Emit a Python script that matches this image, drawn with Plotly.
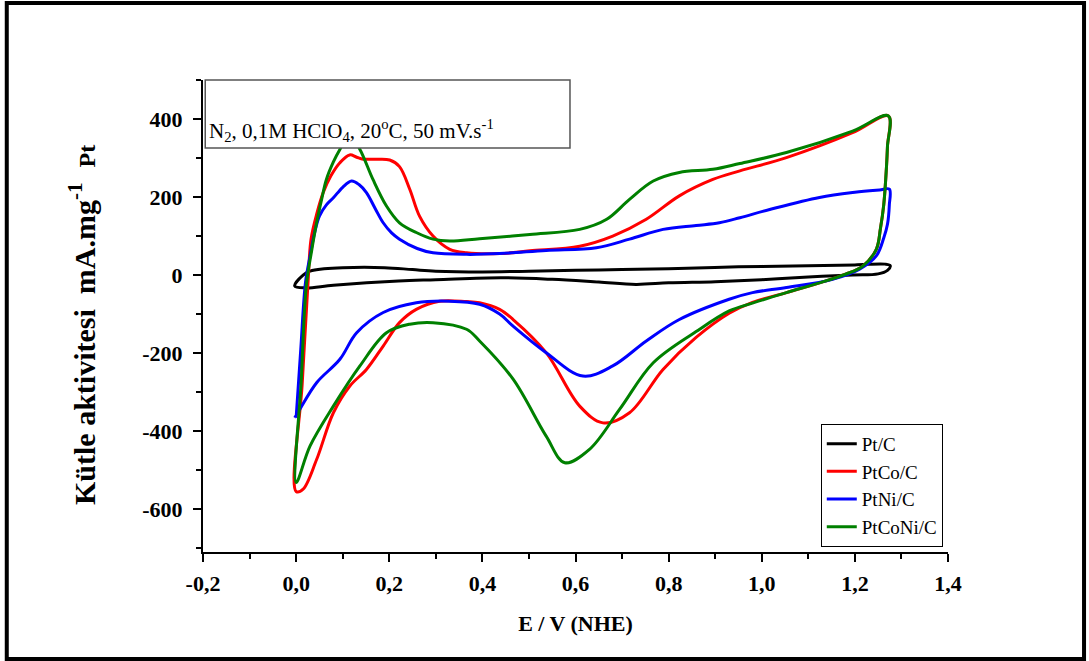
import plotly.graph_objects as go

# ---------------- data ----------------
series_names = ["Pt/C", "PtCo/C", "PtNi/C", "PtCoNi/C"]
series_colors = ["#000000", "#FF0000", "#0000FF", "#008000"]

E_pt = [-0.003, 0.015, 0.03, 0.06, 0.10, 0.19, 0.25, 0.30, 0.40, 0.50, 0.60, 0.70, 0.80, 0.95,
        1.10, 1.20, 1.265, 1.276, 1.27, 1.25, 1.195, 1.10, 1.00, 0.90, 0.80, 0.73, 0.65, 0.55,
        0.44, 0.30, 0.22, 0.08, 0.02, -0.003]
I_pt = [-28, 0, 10, 16, 19, 19, 14, 10, 8, 10, 12, 14, 16, 21,
        24, 26, 28, 24, 12, 3, 0, -5, -12, -17, -20, -24, -18, -11,
        -7, -12, -15, -26, -33, -28]

E_co = [0.0, 0.013, 0.026, 0.032, 0.045, 0.058, 0.075, 0.094, 0.115, 0.13, 0.144, 0.172, 0.201,
        0.222, 0.244, 0.265, 0.294, 0.33, 0.366, 0.437, 0.502, 0.609, 0.68, 0.752, 0.823, 0.895,
        0.953, 1.053, 1.195, 1.272, 1.270, 1.268, 1.262, 1.255, 1.246, 1.217, 1.18, 1.124, 1.053,
        0.98, 0.93, 0.859, 0.788, 0.716, 0.659, 0.609, 0.537, 0.466, 0.437, 0.394, 0.366, 0.308,
        0.258, 0.222, 0.187, 0.151, 0.115, 0.08, 0.044, 0.015, 0.0]
I_co = [-555, -280, -10, 92, 160, 211, 255, 288, 308, 302, 297, 297, 295,
        278, 220, 151, 100, 66, 57, 55, 62, 74, 100, 143, 203, 245,
        267, 301, 365, 408, 330, 280, 180, 120, 66, 23, 2, -20, -45,
        -70, -98, -160, -242, -353, -379, -336, -199, -114, -88, -71, -68, -67,
        -88, -122, -182, -242, -285, -353, -473, -549, -555]

E_ni = [0.0, 0.01, 0.02, 0.03, 0.04, 0.05, 0.065, 0.08, 0.10, 0.119, 0.135, 0.151, 0.17, 0.187,
        0.205, 0.222, 0.26, 0.294, 0.366, 0.437, 0.537, 0.645, 0.716, 0.788, 0.859, 0.909, 0.953,
        1.017, 1.124, 1.20, 1.253, 1.274, 1.274, 1.270, 1.262, 1.246, 1.21, 1.152, 1.053, 0.98,
        0.93, 0.823, 0.752, 0.68, 0.616, 0.537, 0.466, 0.437, 0.394, 0.33, 0.258, 0.187, 0.13,
        0.094, 0.044, 0.008, -0.003]
I_ni = [-366, -190, -20, 49, 110, 151, 180, 198, 225, 241, 232, 211, 170, 134,
        108, 92, 68, 57, 53, 55, 63, 70, 92, 117, 127, 134, 147,
        168, 199, 212, 218, 220, 180, 130, 95, 49, 15, -11, -32, -45,
        -62, -114, -169, -233, -259, -199, -131, -100, -75, -67, -71, -96, -148,
        -216, -276, -344, -366]

E_coni = [0.0, 0.011, 0.022, 0.033, 0.044, 0.055, 0.065, 0.08, 0.094, 0.115, 0.137, 0.165, 0.194,
          0.222, 0.258, 0.294, 0.33, 0.394, 0.502, 0.609, 0.667, 0.716, 0.767, 0.823, 0.895, 0.953,
          1.053, 1.195, 1.272, 1.270, 1.268, 1.262, 1.255, 1.246, 1.217, 1.18, 1.124, 1.053, 0.98,
          0.93, 0.859, 0.767, 0.695, 0.63, 0.577, 0.537, 0.466, 0.394, 0.366, 0.294, 0.244, 0.194,
          0.137, 0.08, 0.03, 0.0]
I_coni = [-532, -270, -25, 60, 134, 195, 245, 290, 322, 360, 322, 245, 177,
          134, 109, 92, 87, 93, 104, 117, 143, 194, 241, 263, 271, 286,
          314, 369, 408, 330, 280, 180, 120, 66, 23, 2, -20, -45, -72,
          -92, -145, -225, -344, -447, -481, -413, -267, -169, -139, -122, -126, -148,
          -233, -336, -438, -532]

x_tick_vals = [-0.2, 0.0, 0.2, 0.4, 0.6, 0.8, 1.0, 1.2, 1.4]
x_tick_text = ["-0,2", "0,0", "0,2", "0,4", "0,6", "0,8", "1,0", "1,2", "1,4"]
y_tick_vals = [-600, -400, -200, 0, 200, 400]
y_tick_text = ["-600", "-400", "-200", "0", "200", "400"]

x_title = "E / V (NHE)"
y_title = "Kütle aktivitesi  mA.mg<sup>-1</sup>  <span style='font-size:24px'>Pt</span>"
condition_text = "N<sub>2</sub>, 0,1M HClO<sub>4</sub>, 20<sup>o</sup>C, 50 mV.s<sup>-1</sup>"

# ---------------- figure ----------------
SERIF = "Liberation Serif, Times New Roman, serif"
fig = go.Figure()
all_E = [E_pt, E_co, E_ni, E_coni]
all_I = [I_pt, I_co, I_ni, I_coni]
for name, color, ex, iy in zip(series_names, series_colors, all_E, all_I):
    fig.add_trace(go.Scatter(
        x=ex, y=iy, mode="lines", name=name, legendgroup=name,
        line=dict(color=color, width=3, shape="spline", smoothing=1.0),
        hoverinfo="skip",
    ))

axis_common = dict(
    showline=True, linecolor="black", linewidth=2, mirror=False,
    ticks="outside", ticklen=8, tickwidth=2, tickcolor="black",
    showgrid=False, zeroline=False,
    tickfont=dict(family=SERIF, size=22, color="black", weight="bold"),
)

fig.update_xaxes(
    range=[-0.2, 1.4], tickmode="array", tickvals=x_tick_vals, ticktext=x_tick_text,
    minor=dict(ticks="outside", ticklen=5, tickwidth=2, tickcolor="black", dtick=0.1, tick0=-0.2, showgrid=False),
    ticklabelstandoff=3,
    title=dict(text=x_title, font=dict(family=SERIF, size=22, color="black", weight="bold"), standoff=20),
    **axis_common,
)
fig.update_yaxes(
    range=[-710, 500], tickmode="array", tickvals=y_tick_vals, ticktext=y_tick_text,
    minor=dict(ticks="outside", ticklen=5, tickwidth=2, tickcolor="black", dtick=100, tick0=0, showgrid=False),
    ticklabelstandoff=6,
    **axis_common,
)

fig.update_layout(
    width=1089, height=661,
    margin=dict(l=203, r=141, t=80, b=109, autoexpand=False),
    plot_bgcolor="white", paper_bgcolor="white",
    showlegend=True,
    legend=dict(
        x=0.993, y=0.011, xanchor="right", yanchor="bottom",
        bordercolor="black", borderwidth=1, bgcolor="white",
        font=dict(family=SERIF, size=19, color="black"),
        tracegroupgap=3, traceorder="normal",
    ),
    shapes=[
        # condition box
        dict(type="rect", xref="paper", yref="paper", x0=0.003, x1=0.4926, y0=0.856, y1=1.0,
             line=dict(color="#555555", width=1.5), fillcolor="white", layer="above"),
        # outer frame
        dict(type="rect", xref="paper", yref="paper", x0=-0.2634, x1=1.1826, y0=-0.2267, y1=1.163,
             line=dict(color="black", width=4), fillcolor="rgba(0,0,0,0)", layer="above"),
    ],
    annotations=[
        dict(text=condition_text, xref="paper", yref="paper", x=0.0054, y=0.894,
             xanchor="left", yanchor="middle", showarrow=False,
             font=dict(family=SERIF, size=21, color="black")),
        dict(text=y_title, xref="paper", yref="paper", x=-0.1624, y=0.481,
             xanchor="center", yanchor="middle", showarrow=False, textangle=-90,
             font=dict(family=SERIF, size=30, color="black", weight="bold")),
    ],
)

fig.write_html(
    "out.html",
    config={"displayModeBar": False},
    post_script="document.body.style.margin='0';document.body.style.overflow='hidden';",
)
